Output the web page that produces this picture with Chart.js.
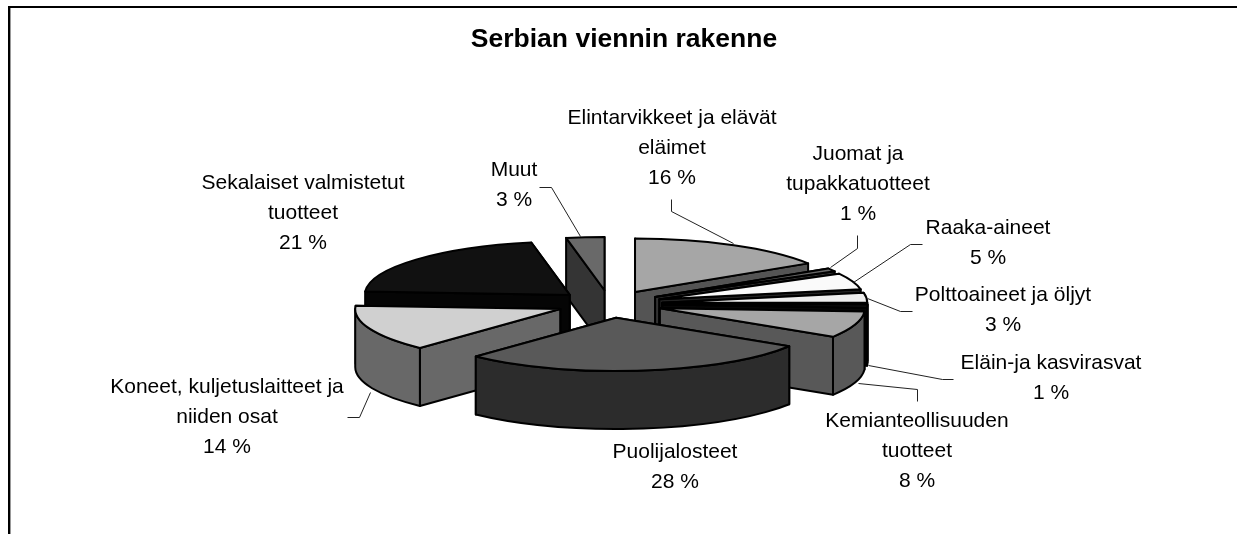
<!DOCTYPE html>
<html>
<head>
<meta charset="utf-8">
<title>Serbian viennin rakenne</title>
<script src="https://cdn.jsdelivr.net/npm/chart.js@4/dist/chart.umd.min.js"></script>
<style>
    html, body { margin: 0; padding: 0; background: #fff; overflow: hidden; }
    canvas { display: block; }
</style>
</head>
<body>
<canvas id="chart" width="1237" height="534"></canvas>
<script>
var categories = [
    'Elintarvikkeet ja elävät eläimet',
    'Juomat ja tupakkatuotteet',
    'Raaka-aineet',
    'Polttoaineet ja öljyt',
    'Eläin-ja kasvirasvat',
    'Kemianteollisuuden tuotteet',
    'Puolijalosteet',
    'Koneet, kuljetuslaitteet ja niiden osat',
    'Sekalaiset valmistetut tuotteet',
    'Muut'
];
var shares = [16, 1, 5, 3, 1, 8, 28, 14, 21, 3];
var topColors = ['#a6a6a6', '#666666', '#fafafa', '#eeeeee', '#111111', '#a6a6a6', '#595959', '#d0d0d0', '#111111', '#696969'];
var sideColors = ['#545454', '#333333', '#222222', '#222222', '#060606', '#585858', '#2c2c2c', '#686868', '#050505', '#343434'];

var labelLines = [
    ['Elintarvikkeet ja elävät', 'eläimet', '16 %'],
    ['Juomat ja', 'tupakkatuotteet', '1 %'],
    ['Raaka-aineet', '5 %'],
    ['Polttoaineet ja öljyt', '3 %'],
    ['Eläin-ja kasvirasvat', '1 %'],
    ['Kemianteollisuuden', 'tuotteet', '8 %'],
    ['Puolijalosteet', '28 %'],
    ['Koneet, kuljetuslaitteet ja', 'niiden osat', '14 %'],
    ['Sekalaiset valmistetut', 'tuotteet', '21 %'],
    ['Muut', '3 %']
];
var labelAnchors = [[672, 118], [858, 154], [988, 228], [1003, 295], [1051, 363], [917, 421], [675, 452], [227, 387], [303, 183], [514, 170]];
var leaderLines = [
    [[671, 199], [671, 211], [733, 243]],
    [[857, 235], [857, 248], [830, 267]],
    [[922, 244], [910, 244], [853, 282]],
    [[912, 311], [900, 311], [867, 298]],
    [[953, 379], [942, 379], [868, 365]],
    [[917, 401], [917, 389], [858, 383]],
    null,
    [[347, 417], [359, 417], [370, 392]],
    null,
    [[539, 187], [551, 187], [580, 236]]
];

// kuvan mittasuhteet
var pieRadius = 205;
var pieCenterX = 609.5;
var pieCenterY = 304;
var tilt = 0.26;
var explode = 53;
var depth = 58;
var labelFont = '21px "Liberation Sans", Arial, sans-serif';
var labelLineHeight = 30;

// pie with the arcs projected onto a tilted, extruded disc
class Pie3dController extends Chart.PieController {
    draw() {
        var ctx = this.chart.ctx;
        var arcs = this.getMeta().data;
        var order = arcs.map(function (a, i) { return i; });

        function midOf(arc) {
            return (arc.startAngle + arc.endAngle) / 2;
        }
        // back slices first
        order.sort(function (a, b) {
            return Math.sin(midOf(arcs[a])) - Math.sin(midOf(arcs[b]));
        });

        ctx.save();
        ctx.lineWidth = 2;
        ctx.lineJoin = 'round';
        ctx.strokeStyle = '#000';
        order.forEach(function (i) {
            var arc = arcs[i];
            var mid = midOf(arc);
            var r = arc.outerRadius;
            var ax = pieCenterX + explode * Math.cos(mid);
            var ay = pieCenterY + explode * tilt * Math.sin(mid);

            function edgeY(angle) {
                return ay + r * tilt * Math.sin(angle);
            }
            function drawWall(angle) {
                var ex = ax + r * Math.cos(angle);
                var ey = edgeY(angle);
                ctx.beginPath();
                ctx.moveTo(ax, ay);
                ctx.lineTo(ex, ey);
                ctx.lineTo(ex, ey + depth);
                ctx.lineTo(ax, ay + depth);
                ctx.closePath();
                ctx.fillStyle = sideColors[i];
                ctx.fill();
                ctx.stroke();
            }

            var walls = [arc.startAngle, arc.endAngle];
            walls.sort(function (a, b) {
                return edgeY(a) - edgeY(b);
            });
            walls.forEach(drawWall);

            var lo = Math.max(arc.startAngle, 0);
            var hi = Math.min(arc.endAngle, Math.PI);
            if (lo < hi) {
                ctx.beginPath();
                ctx.ellipse(ax, ay, r, r * tilt, 0, lo, hi);
                ctx.ellipse(ax, ay + depth, r, r * tilt, 0, hi, lo, true);
                ctx.closePath();
                ctx.fillStyle = sideColors[i];
                ctx.fill();
                ctx.stroke();
            }

            ctx.beginPath();
            ctx.moveTo(ax, ay);
            ctx.ellipse(ax, ay, r, r * tilt, 0, arc.startAngle, arc.endAngle);
            ctx.closePath();
            ctx.fillStyle = topColors[i];
            ctx.fill();
            ctx.stroke();
        });
        ctx.restore();
    }
}
Pie3dController.id = 'pie3d';
Pie3dController.defaults = Chart.PieController.defaults;
Chart.register(Pie3dController);

var framePlugin = {
    id: 'frame',
    beforeDraw: function (chart) {
        var ctx = chart.ctx;
        ctx.save();
        ctx.fillStyle = '#fff';
        ctx.fillRect(0, 0, chart.width, chart.height);
        ctx.fillStyle = '#000';
        ctx.fillRect(8, 6, chart.width - 8, 2);
        ctx.fillRect(8, 6, 2, chart.height - 6);
        ctx.fillStyle = '#999';
        ctx.fillRect(10, 8, 1, chart.height - 8);
        ctx.restore();
    }
};

var labelsPlugin = {
    id: 'sliceLabels',
    afterDatasetsDraw: function (chart) {
        var ctx = chart.ctx;
        ctx.save();
        ctx.strokeStyle = '#222';
        ctx.lineWidth = 1;
        leaderLines.forEach(function (points) {
            if (!points) {
                return;
            }
            ctx.beginPath();
            points.forEach(function (p, n) {
                if (n === 0) {
                    ctx.moveTo(p[0] + 0.5, p[1] + 0.5);
                } else {
                    ctx.lineTo(p[0] + 0.5, p[1] + 0.5);
                }
            });
            ctx.stroke();
        });
        ctx.fillStyle = '#000';
        ctx.font = labelFont;
        ctx.textAlign = 'center';
        ctx.textBaseline = 'middle';
        labelLines.forEach(function (lines, i) {
            lines.forEach(function (line, n) {
                ctx.fillText(line, labelAnchors[i][0], labelAnchors[i][1] + n * labelLineHeight);
            });
        });
        ctx.restore();
    }
};

new Chart(document.getElementById('chart'), {
    type: 'pie3d',
    data: {
        labels: categories,
        datasets: [{
            data: shares,
            backgroundColor: topColors,
            radius: pieRadius
        }]
    },
    options: {
        responsive: false,
        animation: false,
        layout: { padding: { left: 11 } },
        plugins: {
            legend: { display: false },
            tooltip: { enabled: false },
            title: {
                display: true,
                text: 'Serbian viennin rakenne',
                color: '#000',
                font: { family: '"Liberation Sans", Arial, sans-serif', size: 26.5, weight: 'bold', lineHeight: 1.2 },
                padding: { top: 24, bottom: 0 }
            }
        }
    },
    plugins: [framePlugin, labelsPlugin]
});
</script>
</body>
</html>
